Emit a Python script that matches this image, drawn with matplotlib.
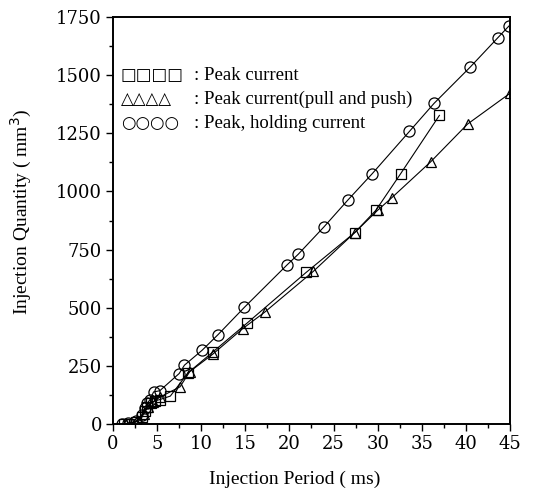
import matplotlib
matplotlib.use("Agg")
import matplotlib.pyplot as plt
from matplotlib.ticker import MultipleLocator

plt.rcParams["font.family"] = ["Liberation Serif", "DejaVu Serif"]

# Peak current (squares)
peak_x = [1.2, 1.8, 2.6, 3.3, 3.6, 3.9, 4.3, 4.8, 5.3, 6.5, 8.5, 11.3, 15.2,
          21.9, 27.4, 29.8, 32.6, 37.0]
peak_y = [0, 2, 10, 30, 55, 75, 90, 100, 105, 120, 220, 309, 434,
          652, 823, 919, 1076, 1327]

# Peak current, pull and push (triangles)
push_x = [1.5, 2.6, 3.5, 4.0, 4.5, 5.3, 7.6, 8.7, 11.3, 14.7, 17.2, 22.7,
          27.4, 30.0, 31.6, 36.0, 40.2, 45.0]
push_y = [0, 8, 45, 75, 95, 115, 160, 225, 300, 410, 481, 656,
          823, 919, 973, 1127, 1290, 1422]

# Peak + holding current (circles)
hold_x = [1.0, 1.7, 2.6, 3.3, 3.6, 3.9, 4.2, 4.6, 5.3, 7.5, 8.1, 10.1, 11.9,
          14.9, 19.7, 21.0, 23.9, 26.6, 29.4, 33.6, 36.4, 40.5, 43.6, 44.9]
hold_y = [0, 3, 12, 40, 70, 90, 105, 138, 143, 217, 253, 317, 384,
          502, 683, 730, 847, 962, 1077, 1258, 1379, 1535, 1660, 1712]

legend_rows = [("□□□□", ": Peak current"),
               ("△△△△", ": Peak current(pull and push)"),
               ("○○○○", ": Peak, holding current")]

fig = plt.figure(figsize=(5.34, 4.92), dpi=100)
ax = fig.add_axes([0.2116, 0.1382, 0.7434, 0.8272])

style = dict(color="black", lw=0.8, mfc="none", mec="black", mew=0.9)
ax.plot(push_x, push_y, marker="^", ms=7, **style)
ax.plot(peak_x, peak_y, marker="s", ms=6.5, **style)
ax.plot(hold_x, hold_y, marker="o", ms=8, **style)

ax.set_xlim(0, 45)
ax.set_ylim(0, 1750)
ax.xaxis.set_major_locator(MultipleLocator(5))
ax.xaxis.set_minor_locator(MultipleLocator(2.5))
ax.yaxis.set_major_locator(MultipleLocator(250))
ax.yaxis.set_minor_locator(MultipleLocator(125))
ax.tick_params(which="both", direction="out", width=1.0)
ax.tick_params(which="major", length=5, labelsize=13, pad=3)
ax.tick_params(which="minor", length=3)
for lab in ax.get_xticklabels() + ax.get_yticklabels():
    lab.set_family("DejaVu Serif")
for sp in ax.spines.values():
    sp.set_linewidth(1.4)

ax.set_xlabel("Injection Period ( ms)", fontsize=14)
ax.set_ylabel("Injection Quantity ( mm$^3$)", fontsize=14)
ax.xaxis.set_label_coords(0.458, -0.115)
ax.yaxis.set_label_coords(-0.2, 0.52)

# hand-drawn style legend
for i, (sym, label) in enumerate(legend_rows):
    yy = 1 - (75 + 24 * i) / 492
    fig.text(121 / 534, yy, sym, family="DejaVu Sans", fontsize=12,
             va="center", ha="left")
    fig.text(194 / 534, yy, label, fontsize=13.5, va="center", ha="left")

fig.savefig("out.png", dpi=100)
